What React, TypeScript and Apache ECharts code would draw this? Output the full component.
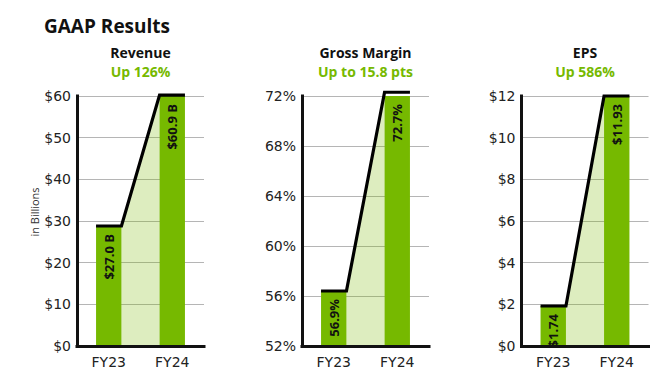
import React, { useEffect, useRef } from 'react';
import * as echarts from 'echarts';

const categories = ['FY23', 'FY24'];

const revenueValues = [28.8, 60.2];
const revenueLabels = ['$27.0 B', '$60.9 B'];
const revenueAxis = { min: 0, max: 60, interval: 10, prefix: '$', suffix: '' };

const marginValues = [56.4, 72.3];
const marginLabels = ['56.9%', '72.7%'];
const marginAxis = { min: 52, max: 72, interval: 4, prefix: '', suffix: '%' };

const epsValues = [1.92, 12.0];
const epsLabels = ['$1.74', '$11.93'];
const epsAxis = { min: 0, max: 12, interval: 2, prefix: '$', suffix: '' };

const panelTitles = ['Revenue', 'Gross Margin', 'EPS'];
const panelChanges = ['Up 126%', 'Up to 15.8 pts', 'Up 586%'];
const mainTitle = 'GAAP Results';
const unitLabel = 'in Billions';

const GREEN = '#76b900';
const FILL = 'rgba(118,185,0,0.25)';
const BAR_FRAC = 0.4;
const GRID_TOP = 96;
const GRID_H = 250;
const GRID_W = 127;
const gridLefts = [77, 302, 521.5];

const panels = [
  { values: revenueValues, labels: revenueLabels, axis: revenueAxis },
  { values: marginValues, labels: marginLabels, axis: marginAxis },
  { values: epsValues, labels: epsLabels, axis: epsAxis },
];

function buildOption() {
  const grid: any[] = [];
  const xAxis: any[] = [];
  const yAxis: any[] = [];
  const series: any[] = [];
  const graphic: any[] = [];

  graphic.push({
    type: 'text',
    x: 44,
    y: 25.5,
    style: {
      text: mainTitle,
      font: 'bold 19px "Open Sans"',
      fill: '#111',
      align: 'left',
      verticalAlign: 'middle',
    },
  });
  graphic.push({
    type: 'text',
    x: 34,
    y: 212,
    rotation: Math.PI / 2,
    style: {
      text: unitLabel,
      font: '11px "Open Sans"',
      fill: '#333',
      align: 'center',
      verticalAlign: 'middle',
    },
  });

  panels.forEach((p, i) => {
    const left = gridLefts[i];
    const cx = left + GRID_W / 2;
    grid.push({ left, top: GRID_TOP, width: GRID_W, height: GRID_H });
    graphic.push({
      type: 'text',
      x: cx,
      y: 52.5,
      style: {
        text: panelTitles[i],
        font: 'bold 14px "Open Sans"',
        fill: '#111',
        align: 'center',
        verticalAlign: 'middle',
      },
    });
    graphic.push({
      type: 'text',
      x: cx,
      y: 71,
      style: {
        text: panelChanges[i],
        font: 'bold 14px "Open Sans"',
        fill: GREEN,
        align: 'center',
        verticalAlign: 'middle',
      },
    });

    const axisLine = {
      show: true,
      onZero: false,
      lineStyle: { color: '#111', width: 3, cap: 'square' },
    };

    xAxis.push({
      type: 'category',
      gridIndex: i,
      data: categories,
      axisLine: { show: false },
      axisTick: { show: false },
      splitLine: { show: false },
      axisLabel: {
        color: '#222',
        fontSize: 14,
        fontFamily: 'DejaVu Sans',
        margin: 9,
      },
    });
    xAxis.push({
      type: 'category',
      gridIndex: i,
      data: categories,
      position: 'bottom',
      axisLine,
      axisTick: { show: false },
      axisLabel: { show: false },
      splitLine: { show: false },
      z: 10,
    });
    yAxis.push({
      type: 'value',
      gridIndex: i,
      min: p.axis.min,
      max: p.axis.max,
      interval: p.axis.interval,
      axisLine: { show: false },
      axisTick: { show: false },
      axisLabel: {
        color: '#222',
        fontSize: 14,
        fontFamily: 'DejaVu Sans',
        margin: 6,
        formatter: (v: number) => p.axis.prefix + v + p.axis.suffix,
      },
      splitLine: { show: true, lineStyle: { color: '#b5b5b5', width: 1 } },
    });
    yAxis.push({
      type: 'value',
      gridIndex: i,
      min: p.axis.min,
      max: p.axis.max,
      interval: p.axis.interval,
      position: 'left',
      axisLine,
      axisTick: { show: false },
      axisLabel: { show: false },
      splitLine: { show: false },
      z: 10,
    });

    const xi = i * 2;
    const yi = i * 2;
    const base = p.axis.min;

    series.push({
      type: 'custom',
      xAxisIndex: xi,
      yAxisIndex: yi,
      z: 1,
      silent: true,
      data: [[0, p.values[0], p.values[1]]],
      renderItem: (_params: any, api: any) => {
        const a = api.coord([0, api.value(1)]);
        const b = api.coord([1, api.value(2)]);
        const y0 = api.coord([0, base])[1];
        const h = (api.size([1, 0])[0] * BAR_FRAC) / 2;
        return {
          type: 'polygon',
          shape: {
            points: [
              [a[0] + h, a[1]],
              [b[0] - h, b[1]],
              [b[0] - h, y0],
              [a[0] + h, y0],
            ],
          },
          style: { fill: FILL },
        };
      },
    });
    series.push({
      type: 'bar',
      xAxisIndex: xi,
      yAxisIndex: yi,
      z: 2,
      clip: true,
      barWidth: BAR_FRAC * 100 + '%',
      data: p.values,
      itemStyle: { color: GREEN },
      label: {
        show: true,
        position: 'insideTop',
        rotate: 90,
        align: 'right',
        verticalAlign: 'middle',
        distance: 8,
        color: '#111',
        fontFamily: 'Open Sans',
        fontWeight: 'bold',
        fontSize: 13,
        formatter: (prm: any) => p.labels[prm.dataIndex],
      },
    });
    series.push({
      type: 'custom',
      xAxisIndex: xi,
      yAxisIndex: yi,
      z: 3,
      silent: true,
      data: [[0, p.values[0], p.values[1]]],
      renderItem: (_params: any, api: any) => {
        const a = api.coord([0, api.value(1)]);
        const b = api.coord([1, api.value(2)]);
        const h = (api.size([1, 0])[0] * BAR_FRAC) / 2;
        return {
          type: 'polyline',
          shape: {
            points: [
              [a[0] - h, a[1]],
              [a[0] + h, a[1]],
              [b[0] - h, b[1]],
              [b[0] + h, b[1]],
            ],
          },
          style: { stroke: '#000', lineWidth: 3.2, fill: 'none', lineJoin: 'miter' },
        };
      },
    });
  });

  return {
    animation: false,
    backgroundColor: '#fff',
    grid,
    xAxis,
    yAxis,
    series,
    graphic,
  };
}

export default function App() {
  const ref = useRef<HTMLDivElement>(null);
  useEffect(() => {
    const chart = echarts.init(ref.current!, null, { renderer: 'svg' });
    chart.setOption(buildOption() as any);
    return () => chart.dispose();
  }, []);
  return (
    <div
      ref={ref}
      style={{ position: 'absolute', left: 0, top: 0, width: 670, height: 370 }}
    />
  );
}
